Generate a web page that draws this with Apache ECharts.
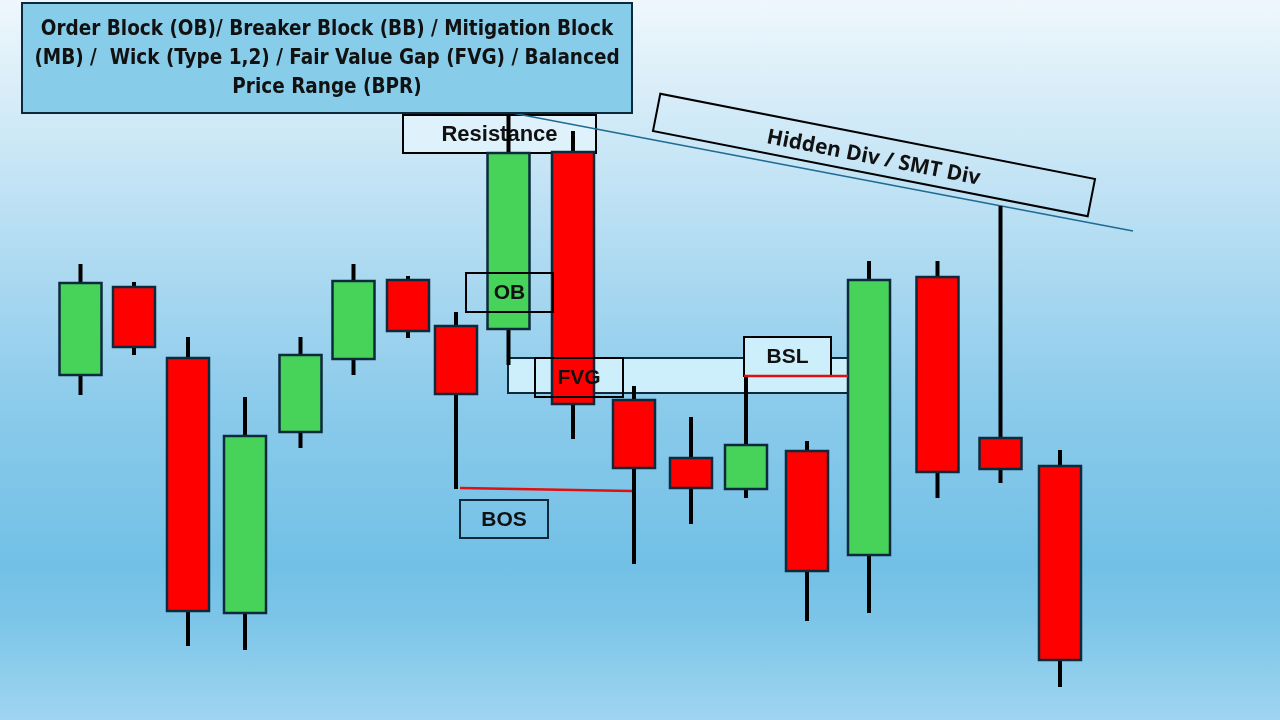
<!DOCTYPE html>
<html>
<head>
<meta charset="utf-8">
<script src="https://cdn.jsdelivr.net/npm/echarts@6/dist/echarts.min.js"></script>
<style>
html,body{margin:0;padding:0;}
#chart{width:1280px;height:720px;background:linear-gradient(180deg,#eff7fd 0%,#d6ecf8 14%,#8ccbeb 55.6%,#72c0e6 78%,#7cc5e8 86%,#9fd5f0 100%);}
</style>
</head>
<body>
<div id="chart"></div>
<script>
// Candle positions along the time axis and OHLC prices
const candleTime = [8.05, 13.4, 18.8, 24.5, 30.05, 35.35, 40.8, 45.6, 50.85, 57.3, 63.4, 69.1, 74.6, 80.7, 86.9, 93.75, 100.05, 106.0];
const openPrices  = [34.5, 43.3, 36.2, 10.7, 28.8, 36.1, 44.0, 39.4, 39.1, 56.8, 32.0, 26.2, 23.1, 26.9, 16.5, 44.3, 28.2, 25.4];
const closePrices = [43.7, 37.3, 10.9, 28.4, 36.5, 43.9, 38.9, 32.6, 56.7, 31.6, 25.2, 23.2, 27.5, 14.9, 44.0, 24.8, 25.1, 6.0];
const lowPrices   = [32.5, 36.5, 7.4, 7.0, 27.2, 34.5, 38.2, 23.1, 35.5, 28.1, 15.6, 19.6, 22.2, 9.9, 10.7, 22.2, 23.7, 3.3];
const highPrices  = [45.6, 43.8, 38.3, 32.3, 38.3, 45.6, 44.4, 40.8, 60.5, 58.9, 33.4, 30.3, 34.4, 27.9, 45.9, 45.9, 51.4, 27.0];

const titleLines = ['Order Block (OB)/ Breaker Block (BB) / Mitigation Block', '(MB) /  Wick (Type 1,2) / Fair Value Gap (FVG) / Balanced', 'Price Range (BPR)'];

const candleData = candleTime.map((t, i) => [t, openPrices[i], closePrices[i], lowPrices[i], highPrices[i]]);

const GREEN = '#47d35a', RED = '#ff0000', EDGE = '#0d2a3d';
const BODY_W = 42;

const chart = echarts.init(document.getElementById('chart'), null, {renderer: 'canvas'});

function box(x, y, w, h, fill, stroke, z, text, fontSize) {
  const els = [{
    type: 'rect', z: z, silent: true,
    shape: {x: x, y: y, width: w, height: h},
    style: {fill: fill, stroke: stroke, lineWidth: 2}
  }];
  if (text) {
    els.push({
      type: 'text', z: z + 1, silent: true,
      style: {x: x + w / 2, y: y + h / 2 + 1, text: text, align: 'center', verticalAlign: 'middle',
        font: 'bold ' + (fontSize || 21) + 'px "Liberation Sans", Arial, sans-serif', fill: '#111'}
    });
  }
  return els;
}

const rot = -11.1 * Math.PI / 180;

const graphics = [].concat(
  // title box
  [{
    type: 'rect', z: 20, silent: true,
    shape: {x: 22, y: 3, width: 610, height: 110},
    style: {fill: '#87cce9', stroke: EDGE, lineWidth: 2}
  }],
  titleLines.map((t, i) => ({
    type: 'text', z: 21, silent: true,
    style: {x: 327, y: 30 + i * 29, text: t, align: 'center', verticalAlign: 'middle',
      font: 'bold 20.5px "Liberation Sans Narrow", "DejaVu Sans Condensed", sans-serif', fill: '#111'}
  })),
  // resistance box (under candles)
  box(403, 115, 193, 38, 'rgba(226,243,252,0.85)', '#000', 1, 'Resistance', 22),
  // trend line
  [{
    type: 'line', z: 3, silent: true,
    shape: {x1: 512, y1: 113, x2: 1133, y2: 231},
    style: {stroke: '#1f6b92', lineWidth: 1.6}
  }],
  // FVG zone (under candles)
  [{
    type: 'rect', z: 1, silent: true,
    shape: {x: 508, y: 358, width: 340, height: 35},
    style: {fill: '#cdeefb', stroke: EDGE, lineWidth: 2}
  }],
  // boxes over candles
  box(466, 273, 87, 39, 'rgba(0,0,0,0)', '#000', 10, 'OB', 21),
  box(535, 358, 88, 39, 'rgba(0,0,0,0)', '#000', 10, 'FVG', 21),
  box(744, 337, 87, 39, '#cdeefb', '#000', 10, 'BSL', 21),
  box(460, 500, 88, 38, 'rgba(0,0,0,0)', EDGE, 10, 'BOS', 21),
  // red level lines
  [{
    type: 'line', z: 11, silent: true,
    shape: {x1: 460, y1: 488, x2: 632, y2: 491},
    style: {stroke: '#e01010', lineWidth: 2.5}
  }, {
    type: 'line', z: 11, silent: true,
    shape: {x1: 744, y1: 376, x2: 848, y2: 376},
    style: {stroke: '#e01010', lineWidth: 2.5}
  }],
  // Hidden div rotated box
  [{
    type: 'group', z: 12, x: 874, y: 155, rotation: rot, silent: true,
    children: [{
      type: 'rect', z: 12,
      shape: {x: -221.5, y: -19, width: 443, height: 38},
      style: {fill: 'rgba(0,0,0,0)', stroke: '#000', lineWidth: 2}
    }, {
      type: 'text', z: 13,
      style: {x: 0, y: 3, text: 'Hidden Div / SMT Div', align: 'center', verticalAlign: 'middle',
        font: 'bold 21px "Open Sans", Lato, sans-serif', fill: '#111'}
    }]
  }]
);

const option = {
  animation: false,
  grid: {left: 0, right: 0, top: 0, bottom: 0},
  xAxis: {type: 'value', min: 0, max: 128, show: false},
  yAxis: {type: 'value', min: 0, max: 72, show: false},
  graphic: graphics,
  series: [{
    type: 'custom',
    z: 5,
    silent: true,
    data: candleData,
    renderItem: function (params, api) {
      const t = api.value(0), o = api.value(1), c = api.value(2), l = api.value(3), h = api.value(4);
      const pO = api.coord([t, o]), pC = api.coord([t, c]);
      const pL = api.coord([t, l]), pH = api.coord([t, h]);
      const top = Math.min(pO[1], pC[1]), bot = Math.max(pO[1], pC[1]);
      return {
        type: 'group',
        children: [
          {type: 'line', shape: {x1: pH[0], y1: pH[1], x2: pH[0], y2: top + 2}, style: {stroke: '#000', lineWidth: 4}},
          {type: 'line', shape: {x1: pL[0], y1: bot - 2, x2: pL[0], y2: pL[1]}, style: {stroke: '#000', lineWidth: 4}},
          {type: 'rect', shape: {x: pO[0] - BODY_W / 2, y: top, width: BODY_W, height: bot - top},
            style: {fill: c > o ? GREEN : RED, stroke: EDGE, lineWidth: 2.5}}
        ]
      };
    }
  }]
};
chart.setOption(option);
</script>
</body>
</html>
